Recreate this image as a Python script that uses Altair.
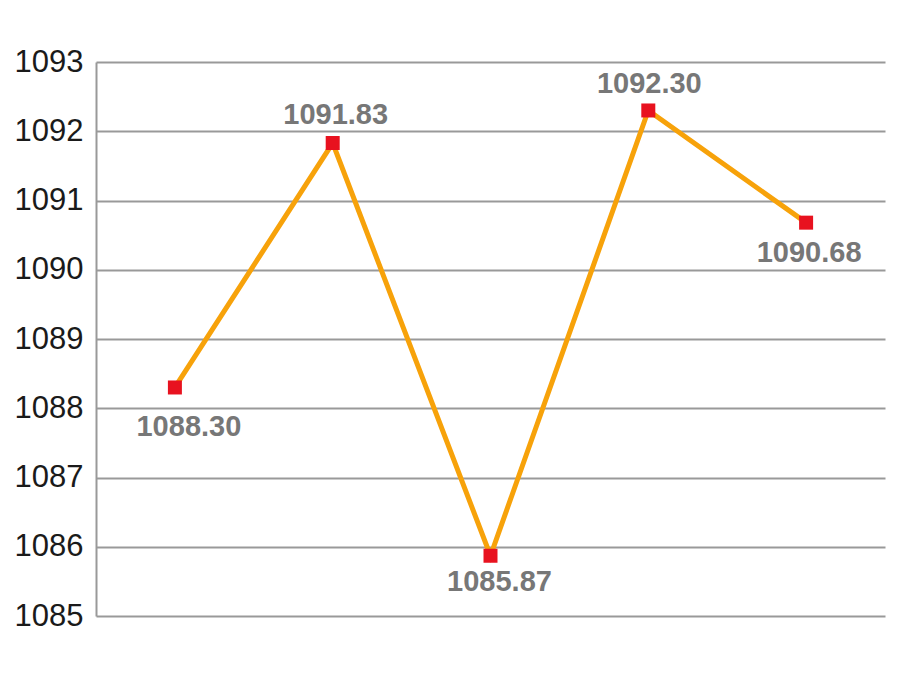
import altair as alt
import pandas as pd

categories = ["1", "2", "3", "4", "5"]
values = [1088.30, 1091.83, 1085.87, 1092.30, 1090.68]
y_ticks = [1085, 1086, 1087, 1088, 1089, 1090, 1091, 1092, 1093]

df = pd.DataFrame({"cat": categories, "value": values})
df["label"] = df["value"].map(lambda v: f"{v:.2f}")

# label placement offsets (style, in pixels) per category
label_offsets = {"1": (14, 40), "2": (3, -28), "3": (9, 26), "4": (1, -26), "5": (3, 30)}

x = alt.X("cat:N", sort=categories, scale=alt.Scale(type="point", padding=0.5), axis=None)
y = alt.Y("value:Q", scale=alt.Scale(domain=[1085, 1093], nice=False, zero=False),
          axis=alt.Axis(values=y_ticks, format="d", title=None, labelFontSize=31,
                        labelFont="Liberation Sans", labelColor="#1a1a1a", labelPadding=13,
                        ticks=False, domain=True, domainColor="#999999", domainWidth=2,
                        grid=True, gridColor="#999999", gridWidth=2))

base = alt.Chart(df).encode(x=x, y=y)

line = base.mark_line(color="#f7a20a", strokeWidth=5)
pts = base.mark_point(shape="square", filled=True, color="#e8121f", size=196, opacity=1)

text_style = dict(font="Liberation Sans", fontSize=29, fontWeight="bold", color="#777777",
                  baseline="middle", align="center")
texts = [
    base.mark_text(dx=dx, dy=dy, **text_style).encode(text="label:N").transform_filter(
        alt.datum.cat == c)
    for c, (dx, dy) in label_offsets.items()
]

chart = alt.layer(line, pts, *texts).properties(
    width=789, height=554,
    autosize=alt.AutoSizeParams(type="none"),
    padding={"left": 88, "top": 54, "right": 7, "bottom": 51},
    background="white",
).configure_view(stroke=None)

chart.save("out.html", embed_options={"renderer": "svg", "actions": False})
